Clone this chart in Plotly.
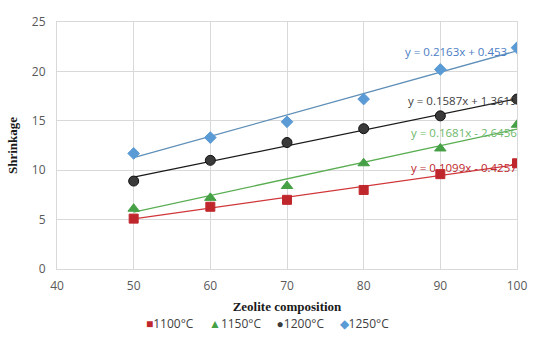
import plotly.graph_objects as go

# Zeolite composition (%) and measured shrinkage at four firing temperatures
composition = [50, 60, 70, 80, 90, 100]
series_names = ["1100°C", "1150°C", "1200°C", "1250°C"]
shrink_1100 = [5.1, 6.3, 7.0, 8.0, 9.6, 10.7]
shrink_1150 = [6.1, 7.2, 8.4, 10.7, 12.2, 14.6]
shrink_1200 = [8.9, 11.0, 12.8, 14.2, 15.5, 17.2]
shrink_1250 = [11.7, 13.3, 14.9, 17.2, 20.2, 22.4]

# Linear trendline coefficients (slope, intercept)
slopes = [0.1099, 0.1681, 0.1587, 0.2163]
intercepts = [-0.4257, -2.6456, 1.3619, 0.453]
trend_labels = ["y = 0.1099x - 0.4257", "y = 0.1681x - 2.6456",
                "y = 0.1587x + 1.3619", "y = 0.2163x + 0.453"]

x_ticks = [40, 50, 60, 70, 80, 90, 100]
y_ticks = [0, 5, 10, 15, 20, 25]

values = [shrink_1100, shrink_1150, shrink_1200, shrink_1250]
symbols = ["square", "triangle-up", "circle", "diamond"]
legend_glyphs = ["■", "▲", "●", "◆"]
marker_colors = ["#C0272D", "#46A046", "#3A3A3A", "#5B9BD5"]
marker_lines = ["#C0272D", "#46A046", "#111111", "#5B9BD5"]
line_colors = ["#D0363A", "#5AAE52", "#1A1A1A", "#5F8FB8"]
label_colors = ["#C0272D", "#6DB86A", "#404040", "#4A7CC4"]
label_y = [10.3, 13.8, 17.1, 22.0]
label_shift = [2, 2, 2, -8]
marker_sizes = [9, 10, 10, 9]

fig = go.Figure()

for i in range(4):
    x0, x1 = composition[0], composition[-1]
    fig.add_trace(go.Scatter(
        x=[x0, x1],
        y=[slopes[i] * x0 + intercepts[i], slopes[i] * x1 + intercepts[i]],
        mode="lines", line=dict(color=line_colors[i], width=1.3),
        showlegend=False, hoverinfo="skip"))

for i in range(4):
    fig.add_trace(go.Scatter(
        x=composition, y=values[i], mode="markers", name=series_names[i],
        showlegend=False,
        marker=dict(symbol=symbols[i], size=marker_sizes[i], color=marker_colors[i],
                    line=dict(color=marker_lines[i], width=1))))

# Trendline equations, right-aligned at the end of each line
for i in range(4):
    fig.add_annotation(
        x=100, y=label_y[i], xref="x", yref="y", text=trend_labels[i],
        showarrow=False, xanchor="right", yanchor="middle", xshift=label_shift[i],
        font=dict(family="Open Sans, Liberation Sans, sans-serif", size=11.5,
                  color=label_colors[i]))

# Plot-area geometry in pixels, used to place the legend row
plot_l, plot_r, plot_t, plot_b = 57, 11, 22, 88
plot_w, plot_h = 538 - plot_l - plot_r, 357 - plot_t - plot_b

# Compact legend row below the axis title
legend_text = "&nbsp;&nbsp;&nbsp;&nbsp;&nbsp;".join(
    f"<span style='color:{marker_colors[i]}'>{legend_glyphs[i]}</span>{series_names[i]}"
    for i in range(4))
fig.add_annotation(
    x=(272 - plot_l) / plot_w, y=-(323 - (357 - plot_b)) / plot_h,
    xref="paper", yref="paper", text=legend_text,
    showarrow=False, xanchor="center", yanchor="middle",
    font=dict(family="Open Sans, Liberation Sans, sans-serif", size=12, color="#404040"))

fig.update_layout(
    width=538, height=357,
    margin=dict(l=plot_l, r=plot_r, t=plot_t, b=plot_b),
    paper_bgcolor="white", plot_bgcolor="white",
    font=dict(family="Open Sans, Liberation Sans, sans-serif", size=12, color="#595959"),
    showlegend=False,
    xaxis=dict(range=[40, 100], tickvals=x_ticks, showgrid=True, gridcolor="#D9D9D9",
               gridwidth=1, zeroline=False, showline=True, linecolor="#D9D9D9",
               mirror=True, ticks="", ticklabelstandoff=6,
               tickfont=dict(size=12, color="#595959"),
               title=dict(text="<b>Zeolite composition</b>", standoff=8,
                          font=dict(family="Liberation Serif, DejaVu Serif, serif",
                                    size=13, color="#1A1A1A"))),
    yaxis=dict(range=[0, 25], tickvals=y_ticks, showgrid=True, gridcolor="#D9D9D9",
               gridwidth=1, zeroline=False, showline=True, linecolor="#D9D9D9",
               mirror=True, ticks="", ticklabelstandoff=8,
               tickfont=dict(size=12, color="#595959"),
               title=dict(text="<b>Shrinkage</b>", standoff=11,
                          font=dict(family="Liberation Serif, DejaVu Serif, serif",
                                    size=13, color="#1A1A1A"))),
)

fig.write_html("out.html")
